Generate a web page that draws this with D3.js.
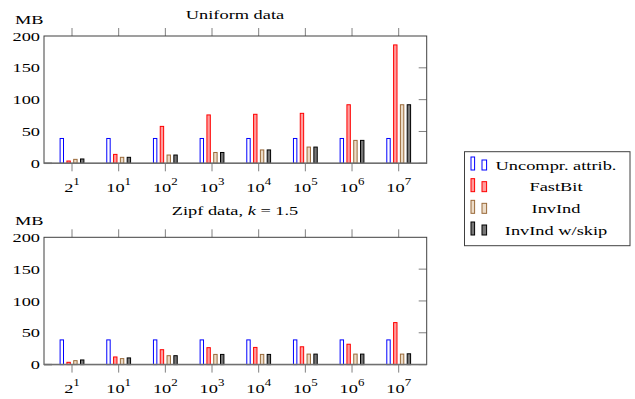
<!DOCTYPE html>
<html>
<head>
<meta charset="utf-8">
<script src="https://cdn.jsdelivr.net/npm/d3@7/dist/d3.min.js"></script>
</head>
<body style="margin:0; background:#fff">
<div id="chart"></div>
<script>
// categories: number of distinct values (base, exponent)
const categories = [['2', '1'], ['10', '1'], ['10', '2'], ['10', '3'], ['10', '4'], ['10', '5'], ['10', '6'], ['10', '7']];
const seriesNames = ['Uncompr. attrib.', 'FastBit', 'InvInd', 'InvInd w/skip'];
const yTicks = [0, 50, 100, 150, 200];

// sizes in MB
const uniformUncompr = [39, 39, 39, 39, 39, 39, 39, 39];
const uniformFastBit = [3.6, 14, 58, 76, 77, 78.5, 92, 186];
const uniformInvInd = [6.2, 9.4, 13, 17, 21, 25.5, 36, 92];
const uniformSkip = [6.8, 9.4, 13, 17, 21, 25.5, 36, 92];

const zipfUncompr = [38.8, 38.8, 38.8, 38.8, 38.8, 38.8, 38.8, 38.8];
const zipfFastBit = [3.6, 12, 23.4, 26.6, 27, 28, 32, 66];
const zipfInvInd = [6.2, 9.4, 14, 16, 16, 16.5, 16.5, 16.5];
const zipfSkip = [7.3, 10.5, 14, 16, 16, 16.5, 16.5, 17];

const styles = [
  { stroke: '#0000ff', fill: '#ffffff' },
  { stroke: '#ff0000', fill: '#ff9c9c' },
  { stroke: '#9a6a3a', fill: '#ecdcc8' },
  { stroke: '#000000', fill: '#787878' }
];

const FONT = '"Liberation Serif"';
const fontSize = '13.5px';
const stretch = 1.36; // reference text is wider than it is tall

const svg = d3.select('#chart').append('svg')
  .attr('width', 635)
  .attr('height', 399);

// put a text at (px, py), stretched horizontally around its anchor
function label(sel, px, py, anchor) {
  return sel.append('text')
    .attr('transform', `translate(${px},${py}) scale(${stretch},1)`)
    .attr('text-anchor', anchor)
    .style('font-family', FONT)
    .style('font-size', fontSize)
    .attr('fill', '#000');
}

const x = d3.scalePoint()
  .domain(d3.range(categories.length))
  .range([44, 426.7])
  .padding(0.6);

const inner = d3.scaleBand()
  .domain(d3.range(seriesNames.length))
  .range([-13.6, 13.6]);

const barW = 3.4;

function drawPanel(top, titleOffset, title, values) {
  const y = d3.scaleLinear().domain([0, 200]).range([top + 127.3, top]);
  const g = svg.append('g');

  // bars
  values.forEach((vals, s) => {
    g.selectAll('.b' + s)
      .data(vals)
      .enter()
      .append('rect')
      .attr('x', (d, i) => x(i) + inner(s) + inner.bandwidth() / 2 - barW / 2)
      .attr('y', d => y(d))
      .attr('width', barW)
      .attr('height', d => y(0) - y(d))
      .attr('fill', styles[s].fill)
      .attr('stroke', styles[s].stroke)
      .attr('stroke-width', 1);
  });

  // ticks
  g.selectAll('.xt')
    .data(categories)
    .enter()
    .append('line')
    .attr('x1', (d, i) => x(i)).attr('x2', (d, i) => x(i))
    .attr('y1', y(200) - 8).attr('y2', y(200))
    .attr('stroke', '#808080');
  g.selectAll('.xb')
    .data(categories)
    .enter()
    .append('line')
    .attr('x1', (d, i) => x(i)).attr('x2', (d, i) => x(i))
    .attr('y1', y(0)).attr('y2', y(0) + 8)
    .attr('stroke', '#808080');
  g.selectAll('.yt')
    .data(yTicks.slice(0, 4))
    .enter()
    .append('line')
    .attr('x1', 426.7 - 8).attr('x2', 426.7)
    .attr('y1', d => y(d)).attr('y2', d => y(d))
    .attr('stroke', '#808080');
  g.append('line')
    .attr('x1', 44).attr('x2', 52)
    .attr('y1', y(0)).attr('y2', y(0))
    .attr('stroke', '#808080').attr('stroke-width', 1.5);

  // axis box
  g.append('rect')
    .attr('x', 44).attr('y', y(200))
    .attr('width', 426.7 - 44).attr('height', y(0) - y(200))
    .attr('fill', 'none')
    .attr('stroke', '#404040')
    .attr('stroke-width', 1);
  g.append('line')
    .attr('x1', 44).attr('x2', 426.7)
    .attr('y1', y(0)).attr('y2', y(0))
    .attr('stroke', '#707070').attr('stroke-width', 1.5);

  // y labels
  yTicks.forEach(v => {
    label(g, 40, y(v) + 4.6, 'end').text(v);
  });

  // x labels
  categories.forEach((c, i) => {
    const t = label(g, x(i), y(0) + 28.4, 'middle');
    t.append('tspan').text(c[0]);
    t.append('tspan')
      .attr('dy', -6.7)
      .style('font-size', '9.5px')
      .text(c[1]);
  });

  label(g, 15, top - 12, 'start').text('MB');

  const t = label(g, 235, top - titleOffset, 'middle');
  title.forEach(part => {
    t.append('tspan').style('font-style', part.italic ? 'italic' : 'normal').text(part.text);
  });
}

drawPanel(36, 16.7, [{ text: 'Uniform data' }],
  [uniformUncompr, uniformFastBit, uniformInvInd, uniformSkip]);
drawPanel(237.3, 22.3, [{ text: 'Zipf data, ' }, { text: 'k', italic: true }, { text: ' = 1.5' }],
  [zipfUncompr, zipfFastBit, zipfInvInd, zipfSkip]);

// legend
const legend = svg.append('g');
legend.append('rect')
  .attr('x', 464.5).attr('y', 151.7)
  .attr('width', 165.5).attr('height', 94)
  .attr('fill', '#fff')
  .attr('stroke', '#404040');

const rowY = d3.scalePoint().domain(d3.range(seriesNames.length)).range([170, 235]);

seriesNames.forEach((name, i) => {
  legend.append('rect')
    .attr('x', 471).attr('y', rowY(i) - 13)
    .attr('width', 3.6).attr('height', 13)
    .attr('fill', styles[i].fill)
    .attr('stroke', styles[i].stroke);
  legend.append('rect')
    .attr('x', 482).attr('y', rowY(i) - 10)
    .attr('width', 4.6).attr('height', 10)
    .attr('fill', styles[i].fill)
    .attr('stroke', styles[i].stroke);
  label(legend, 556, rowY(i) - 0.5, 'middle').text(name);
});
</script>
</body>
</html>
